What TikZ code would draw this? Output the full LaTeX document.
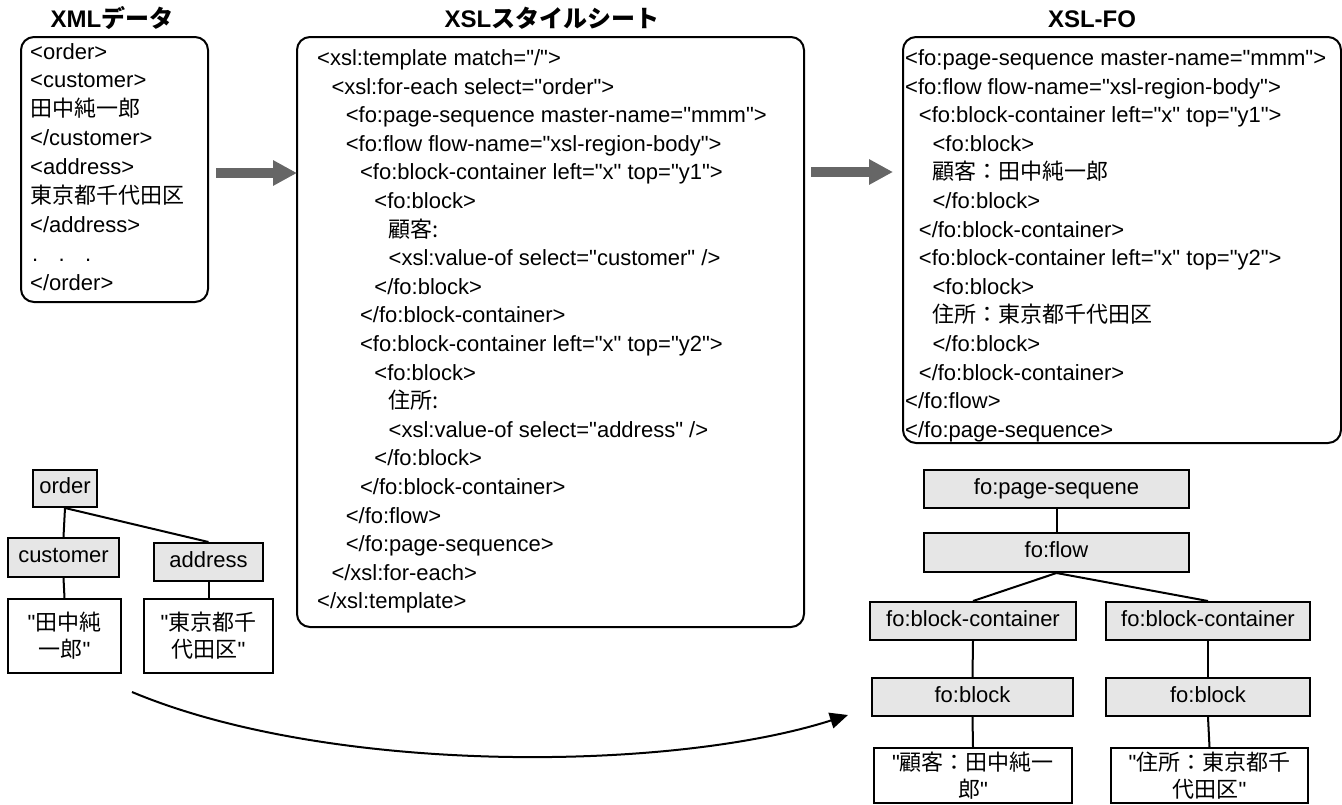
\documentclass[tikz,border=0pt]{standalone}
\usepackage{fontspec}
\setmainfont{Liberation Sans}[Ligatures=TeXOff]
\newfontfamily\jp{Noto Sans CJK JP}
\usetikzlibrary{arrows.meta}
\definecolor{boxgray}{RGB}{230,230,230}
\definecolor{arrgray}{RGB}{102,102,102}
\newcommand{\xmlline}[3]{\node[code] (#1) at (30,{59+28.9*(#2-1)}) {#3};}
\newcommand{\xslline}[4]{\node[code] (#1) at ({317+14.3*#2},{65.5+28.6*(#3-1)}) {#4};}
\newcommand{\foline}[4]{\node[code] (#1) at ({905+13.7*#2},{65.5+28.6*(#3-1)}) {#4};}
\begin{document}
\begin{tikzpicture}[x=1pt,y=-1pt,
  bigbox/.style={draw, line width=2pt, rounded corners=13pt, inner sep=0pt},
  code/.style={anchor=base west, inner sep=0pt, font=\fontsize{22}{28}\selectfont},
  title/.style={anchor=base, inner sep=0pt, font=\fontsize{24}{28}\selectfont\bfseries},
  tbox/.style={draw, line width=2pt, fill=boxgray, inner sep=0pt, text height=15pt, text depth=5pt, font=\fontsize{22}{28}\selectfont},
  valbox/.style={draw, line width=2pt, fill=white, inner sep=0pt, align=center, font=\fontsize{22}{27}\selectfont},
  edge/.style={line width=2pt},
  bigarrow/.style={draw=arrgray, line width=10pt, -{Triangle[length=24pt,width=24pt]}},
  curvearrow/.style={line width=2pt, -{Triangle[length=18pt,width=16pt]}}
]
\useasboundingbox (0,0) rectangle (1342,804);

% titles
\node[title] (t1) at (112,27) {XML{\jp\bfseries データ}};
\node[title] (t2) at (552,27) {XSL{\jp\bfseries スタイルシート}};
\node[title] (t3) at (1092,27) {XSL-FO};

% big boxes
\node[bigbox, minimum width=187pt, minimum height=265pt] (xmlbox) at (114.5,169.5) {};
\node[bigbox, minimum width=507pt, minimum height=590pt] (xslbox) at (550.5,332) {};
\node[bigbox, minimum width=438pt, minimum height=406pt] (fobox) at (1122,240) {};

% XML data
\xmlline{x1}{1}{<order>}
\xmlline{x2}{2}{<customer>}
\xmlline{x3}{3}{{\jp 田中純一郎}}
\xmlline{x4}{4}{</customer>}
\xmlline{x5}{5}{<address>}
\xmlline{x6}{6}{{\jp 東京都千代田区}}
\xmlline{x7}{7}{</address>}
\node[code] (x8) at (32,{59+28.9*7}) {.\hspace{20.4pt}.\hspace{20.4pt}.};
\xmlline{x9}{9}{</order>}

% XSL stylesheet
\xslline{s1}{0}{1}{<xsl:template match="/">}
\xslline{s2}{1}{2}{<xsl:for-each select="order">}
\xslline{s3}{2}{3}{<fo:page-sequence master-name="mmm">}
\xslline{s4}{2}{4}{<fo:flow flow-name="xsl-region-body">}
\xslline{s5}{3}{5}{<fo:block-container left="x" top="y1">}
\xslline{s6}{4}{6}{<fo:block>}
\xslline{s7}{5}{7}{{\jp 顧客:}}
\xslline{s8}{5}{8}{<xsl:value-of select="customer" />}
\xslline{s9}{4}{9}{</fo:block>}
\xslline{s10}{3}{10}{</fo:block-container>}
\xslline{s11}{3}{11}{<fo:block-container left="x" top="y2">}
\xslline{s12}{4}{12}{<fo:block>}
\xslline{s13}{5}{13}{{\jp 住所:}}
\xslline{s14}{5}{14}{<xsl:value-of select="address" />}
\xslline{s15}{4}{15}{</fo:block>}
\xslline{s16}{3}{16}{</fo:block-container>}
\xslline{s17}{2}{17}{</fo:flow>}
\xslline{s18}{2}{18}{</fo:page-sequence>}
\xslline{s19}{1}{19}{</xsl:for-each>}
\xslline{s20}{0}{20}{</xsl:template>}

% XSL-FO
\foline{f1}{0}{1}{<fo:page-sequence master-name="mmm">}
\foline{f2}{0}{2}{<fo:flow flow-name="xsl-region-body">}
\foline{f3}{1}{3}{<fo:block-container left="x" top="y1">}
\foline{f4}{2}{4}{<fo:block>}
\foline{f5}{2}{5}{{\jp 顧客：田中純一郎}}
\foline{f6}{2}{6}{</fo:block>}
\foline{f7}{1}{7}{</fo:block-container>}
\foline{f8}{1}{8}{<fo:block-container left="x" top="y2">}
\foline{f9}{2}{9}{<fo:block>}
\foline{f10}{2}{10}{{\jp 住所：東京都千代田区}}
\foline{f11}{2}{11}{</fo:block>}
\foline{f12}{1}{12}{</fo:block-container>}
\foline{f13}{0}{13}{</fo:flow>}
\foline{f14}{0}{14}{</fo:page-sequence>}

% gray arrows
\coordinate (a1s) at (216,173);
\coordinate (a1e) at (297,173);
\coordinate (a2s) at (811,172);
\coordinate (a2e) at (893,172);
\draw[bigarrow] (a1s) -- (a1e);
\draw[bigarrow] (a2s) -- (a2e);

% XML tree
\node[tbox, minimum width=64pt, minimum height=37pt] (order) at (65,488.5) {order};
\node[tbox, minimum width=111pt, minimum height=39pt] (customer) at (63.5,557.5) {customer};
\node[tbox, minimum width=109pt, minimum height=38pt] (address) at (208.5,562) {address};
\node[valbox, minimum width=113pt, minimum height=74pt] (cval) at (64.5,636) {"{\jp 田中純}\\{\jp 一郎}"};
\node[valbox, minimum width=129pt, minimum height=74pt] (aval) at (208.5,636) {"{\jp 東京都千}\\{\jp 代田区}"};
\draw[edge] (order.south) -- (customer.north);
\draw[edge] (order.south) -- (address.north);
\draw[edge] (customer.south) -- (cval.north);
\draw[edge] (address.south) -- (aval.north);

% FO tree
\node[tbox, minimum width=265pt, minimum height=38pt] (ps) at (1056.5,489) {fo:page-sequene};
\node[tbox, minimum width=265pt, minimum height=39pt] (flow) at (1056.5,552.5) {fo:flow};
\node[tbox, minimum width=206pt, minimum height=38pt] (bc1) at (973,621) {fo:block-container};
\node[tbox, minimum width=204pt, minimum height=38pt] (bc2) at (1208,621) {fo:block-container};
\node[tbox, minimum width=201pt, minimum height=38pt] (b1) at (972.5,697) {fo:block};
\node[tbox, minimum width=204pt, minimum height=38pt] (b2) at (1208,697) {fo:block};
\node[valbox, minimum width=198pt, minimum height=55pt] (v1) at (973,775.5) {"{\jp 顧客：田中純一}\\{\jp 郎}"};
\node[valbox, minimum width=197pt, minimum height=55pt] (v2) at (1209.5,775.5) {"{\jp 住所：東京都千}\\{\jp 代田区}"};
\draw[edge] (ps.south) -- (flow.north);
\draw[edge] (flow.south) -- (bc1.north);
\draw[edge] (flow.south) -- (bc2.north);
\draw[edge] (bc1.south) -- (b1.north);
\draw[edge] (bc2.south) -- (b2.north);
\draw[edge] (b1.south) -- (v1.north);
\draw[edge] (b2.south) -- (v2.north);

% curved arrow
\coordinate (cs) at (132,692);
\coordinate (ce) at (848,715);
\draw[curvearrow] (cs) .. controls (330,775) and (670,772) .. (ce);
\end{tikzpicture}
\end{document}
